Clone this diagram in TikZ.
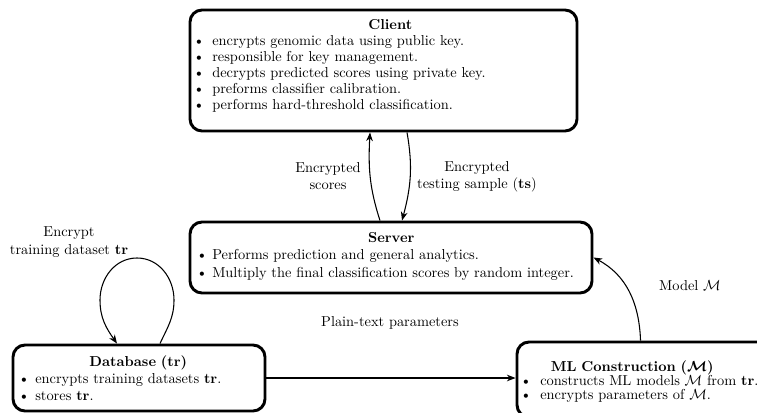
\documentclass[tikz,border=0pt]{standalone}
\usepackage{amsmath,amssymb,bm}
\usetikzlibrary{arrows.meta,fit,calc}
\newcommand{\bul}[2]{\makebox[#1][l]{\textbullet}#2}
\begin{document}
\begin{tikzpicture}[x=0.75pt,y=0.75pt,
  box/.style={draw, line width=2.2pt, rounded corners=9pt, inner sep=0pt},
  txt/.style={inner sep=0pt, anchor=base west, align=left},
  lbl/.style={inner sep=0pt, align=center, font=\fontsize{10.8}{13}\selectfont},
  arr/.style={line width=0.8pt, -{Stealth[length=6.5pt,width=5pt,inset=2pt]}}]
\useasboundingbox (0,0) rectangle (757,412);
\clip (0,0) rectangle (757,412);
% boxes
\node[box, fit={(190,281) (577,402)}] (client) {};
\node[box, fit={(190,119) (592,190)}] (server) {};
\node[box, fit={(13,1) (265,67)}] (db) {};
\node[box, fit={(517,-5) (790,70)}] (ml) {};
% box texts
\node[txt, text width=300pt, font=\fontsize{10.8}{12}\selectfont] (clienttxt) at (193,382.5)
 {\makebox[295.5pt]{\textbf{Client}}\\
  \bul{14.25pt}{encrypts genomic data using public key.}\\
  \bul{14.25pt}{responsible for key management.}\\
  \bul{14.25pt}{decrypts predicted scores using private key.}\\
  \bul{14.25pt}{preforms classifier calibration.}\\
  \bul{14.25pt}{performs hard-threshold classification.}};
\node[txt, text width=300pt, font=\fontsize{10.8}{13.1}\selectfont] (servertxt) at (196,169.5)
 {\makebox[292.5pt]{\textbf{Server}}\\
  \bul{12pt}{Performs prediction and general analytics.}\\
  \bul{12pt}{Multiply the final classification scores by random integer.}};
\node[txt, text width=200pt, font=\fontsize{10.8}{12.75}\selectfont] (dbtxt) at (18,45.5)
 {\makebox[180pt]{\textbf{Database (tr)}}\\
  \bul{12.75pt}{encrypts training datasets \textbf{tr}.}\\
  \bul{12.75pt}{stores \textbf{tr}.}};
\node[txt, text width=200pt, font=\fontsize{10.8}{10.6}\selectfont] (mltxt) at (520,40.5)
 {\makebox[168pt]{\textbf{ML Construction ($\bm{\mathcal{M}}$)}}\\
  \bul{15pt}{constructs ML models $\mathcal{M}$ from \textbf{tr}.}\\
  \bul{15pt}{encrypts parameters of $\mathcal{M}$.}};
% labels
\node[lbl] (l1) at (328,236) {Encrypted\\scores};
\node[lbl] (l2) at (477,235) {Encrypted\\testing sample (\textbf{ts})};
\node[lbl] (l3) at (69,170) {Encrypt\\training dataset \textbf{tr}};
\node[lbl, anchor=base] (l4) at (390,86) {Plain-text parameters};
\node[lbl, anchor=base] (l5) at (690,122) {Model $\mathcal{M}$};
% connectors
\draw[arr] ($(server.north)+(-11,0)$) to[out=108,in=-93] ($(client.south)+(-13.5,0)$);
\draw[arr] ($(client.south)+(23.5,0)$) to[out=-80,in=75] ($(server.north)+(11,0)$);
\draw[arr] (db.east) -- (db.east -| ml.west);
\draw[arr] ($(ml.north west)+(125,0)$) to[out=92,in=-28] (server.east);
\draw[arr] ($(db.north)+(21,0)$) to[out=65,in=-90] (174,112) to[out=90,in=0] (137,154)
  to[out=180,in=90] (100,112) to[out=-90,in=125] ($(db.north)+(-22,0)$);
\end{tikzpicture}
\end{document}
